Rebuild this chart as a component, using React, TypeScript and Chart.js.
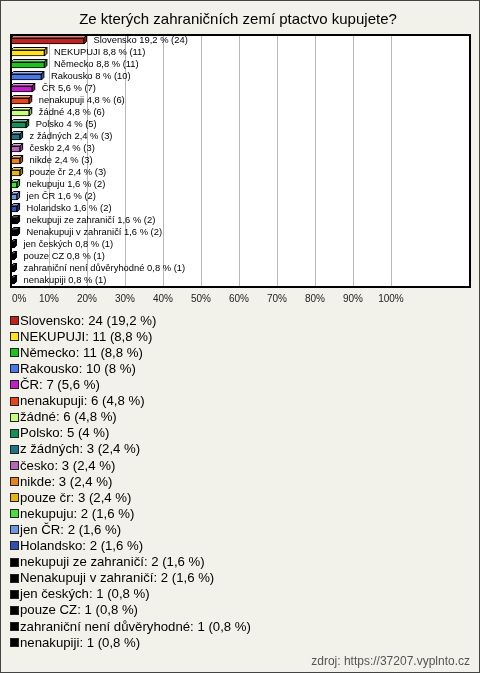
import React, { useEffect, useRef } from "react";
import { Chart, registerables } from "chart.js";

Chart.register(...registerables);

const TITLE = "Ze kterých zahraničních zemí ptactvo kupujete?";
const SOURCE = "zdroj: https://37207.vyplnto.cz";

const categories = [
  "Slovensko",
  "NEKUPUJI",
  "Německo",
  "Rakousko",
  "ČR",
  "nenakupuji",
  "žádné",
  "Polsko",
  "z žádných",
  "česko",
  "nikde",
  "pouze čr",
  "nekupuju",
  "jen ČR",
  "Holandsko",
  "nekupuji ze zahraničí",
  "Nenakupuji v zahraničí",
  "jen českých",
  "pouze CZ",
  "zahraniční není důvěryhodné",
  "nenakupiji",
];

const counts = [24, 11, 11, 10, 7, 6, 6, 5, 3, 3, 3, 3, 2, 2, 2, 2, 2, 1, 1, 1, 1];

const percents = [
  19.2, 8.8, 8.8, 8, 5.6, 4.8, 4.8, 4, 2.4, 2.4, 2.4, 2.4, 1.6, 1.6, 1.6, 1.6, 1.6, 0.8, 0.8, 0.8, 0.8,
];

const barColors = [
  "#c0231b",
  "#ffe21a",
  "#1ec21e",
  "#4a78ea",
  "#c21ec8",
  "#e8461a",
  "#c8ff7a",
  "#14905a",
  "#1f7486",
  "#b866b8",
  "#e8821c",
  "#e8b410",
  "#46e03c",
  "#6c98e0",
  "#2e50b0",
  "#000000",
  "#000000",
  "#000000",
  "#000000",
  "#000000",
  "#000000",
];

const tickValues = [0, 10, 20, 30, 40, 50, 60, 70, 80, 90, 100];
const AXIS_MAX = 120.8;

const FONT = "'Liberation Sans', Arial, sans-serif";
const BG = "#f3f2ea";

function fmt(p: number): string {
  return String(p).replace(".", ",");
}

function mix(hex: string, target: number, t: number): string {
  const n = parseInt(hex.slice(1), 16);
  const r = (n >> 16) & 255;
  const g = (n >> 8) & 255;
  const b = n & 255;
  const f = (c: number) => Math.round(c + (target - c) * t);
  return `rgb(${f(r)},${f(g)},${f(b)})`;
}

const decorPlugin = {
  id: "decor",
  beforeDraw(chart: any) {
    const ctx = chart.ctx;
    const { width, height } = chart;
    const area = chart.chartArea;
    ctx.save();
    ctx.fillStyle = BG;
    ctx.fillRect(0, 0, width, height);
    ctx.fillStyle = "#ffffff";
    ctx.fillRect(area.left, area.top, area.right - area.left, area.bottom - area.top);
    const xs = chart.scales.x;
    ctx.strokeStyle = "#b8b8b8";
    ctx.lineWidth = 1;
    tickValues.forEach((v) => {
      const px = Math.round(xs.getPixelForValue(v)) + 0.5;
      ctx.beginPath();
      ctx.moveTo(px, area.top);
      ctx.lineTo(px, area.bottom);
      ctx.stroke();
    });
    ctx.restore();
  },
  afterDatasetsDraw(chart: any) {
    const ctx = chart.ctx;
    const meta = chart.getDatasetMeta(0);
    const d = 2.5;
    ctx.save();
    ctx.lineWidth = 1;
    ctx.strokeStyle = "#000000";
    meta.data.forEach((el: any, i: number) => {
      const p = el.getProps(["x", "y", "base", "height"], true);
      const left = p.base;
      const right = p.x;
      const top = p.y - p.height / 2;
      const bottom = p.y + p.height / 2;
      const c = barColors[i];
      ctx.beginPath();
      ctx.moveTo(left, top);
      ctx.lineTo(left + d, top - d);
      ctx.lineTo(right + d, top - d);
      ctx.lineTo(right, top);
      ctx.closePath();
      ctx.fillStyle = c === "#000000" ? "#555555" : mix(c, 255, 0.45);
      ctx.fill();
      ctx.stroke();
      ctx.beginPath();
      ctx.moveTo(right, top);
      ctx.lineTo(right + d, top - d);
      ctx.lineTo(right + d, bottom - d);
      ctx.lineTo(right, bottom);
      ctx.closePath();
      ctx.fillStyle = mix(c, 0, 0.3);
      ctx.fill();
      ctx.stroke();
      ctx.fillStyle = "#000000";
      ctx.font = `9.4px ${FONT}`;
      ctx.textAlign = "left";
      ctx.textBaseline = "middle";
      ctx.fillText(`${categories[i]} ${fmt(percents[i])} % (${counts[i]})`, right + d + 7, p.y - 0.5);
    });
    ctx.restore();
  },
  afterDraw(chart: any) {
    const ctx = chart.ctx;
    const area = chart.chartArea;
    const { width, height } = chart;
    const xs = chart.scales.x;
    ctx.save();
    ctx.strokeStyle = "#000000";
    ctx.lineWidth = 2;
    ctx.strokeRect(area.left, area.top, area.right - area.left, area.bottom - area.top);
    ctx.fillStyle = "#000000";
    ctx.font = `15px ${FONT}`;
    ctx.textAlign = "center";
    ctx.textBaseline = "middle";
    ctx.fillText(TITLE, width / 2 - 2, 20);
    ctx.font = `10px ${FONT}`;
    ctx.fillStyle = "#222222";
    tickValues.forEach((v) => {
      const px = xs.getPixelForValue(v);
      const txt = `${v}%`;
      const w = ctx.measureText(txt).width;
      let x = px - w / 2;
      if (x < area.left) x = area.left + 1;
      ctx.textAlign = "left";
      ctx.fillText(txt, x, 299);
    });
    ctx.font = `13.2px ${FONT}`;
    ctx.textBaseline = "middle";
    categories.forEach((cat, i) => {
      const cy = 321 + i * 16.1;
      ctx.fillStyle = barColors[i];
      ctx.fillRect(10.5, Math.round(cy) - 4.5, 8, 8);
      ctx.strokeStyle = "#222222";
      ctx.lineWidth = 1;
      ctx.strokeRect(10.5, Math.round(cy) - 4.5, 8, 8);
      ctx.fillStyle = "#000000";
      ctx.textAlign = "left";
      ctx.fillText(`${cat}: ${counts[i]} (${fmt(percents[i])} %)`, 20, cy);
    });
    ctx.font = `12px ${FONT}`;
    ctx.fillStyle = "#555555";
    ctx.textAlign = "right";
    ctx.fillText(SOURCE, 470, 662);
    ctx.strokeStyle = "#444444";
    ctx.lineWidth = 1;
    ctx.strokeRect(0.5, 0.5, width - 1, height - 1);
    ctx.restore();
  },
};

export default function App() {
  const ref = useRef<HTMLCanvasElement | null>(null);
  useEffect(() => {
    document.body.style.margin = "0";
    const canvas = ref.current;
    if (!canvas) return;
    const chart = new Chart(canvas, {
      type: "bar",
      data: {
        labels: categories,
        datasets: [
          {
            data: percents,
            backgroundColor: barColors,
            borderColor: "#000000",
            borderWidth: 1,
            borderSkipped: false,
            barThickness: 6,
          },
        ],
      },
      options: {
        indexAxis: "y",
        responsive: false,
        animation: false,
        devicePixelRatio: 1,
        layout: { padding: { left: 11, right: 10, top: 35, bottom: 386 } },
        plugins: {
          legend: { display: false },
          title: { display: false },
          tooltip: { enabled: false },
        },
        scales: {
          x: { display: false, min: 0, max: AXIS_MAX },
          y: { display: false, offset: true },
        },
      },
      plugins: [decorPlugin],
    } as any);
    return () => chart.destroy();
  }, []);
  return <canvas ref={ref} width={480} height={673} style={{ display: "block" }} />;
}
